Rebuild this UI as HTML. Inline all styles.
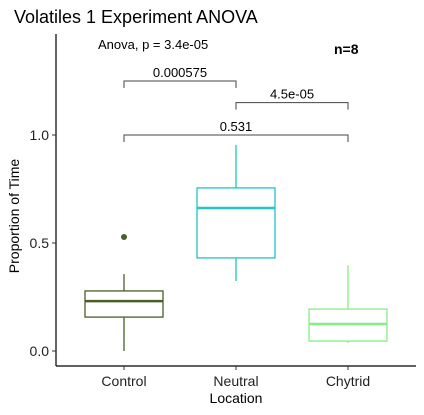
<!DOCTYPE html>
<html><head><meta charset="utf-8"><style>
body{margin:0;background:#fff;}
svg{font-family:"Liberation Sans",Arial,sans-serif;display:block;}
</style></head><body>
<svg width="424" height="415" viewBox="0 0 424 415">
<text x="14" y="23" font-size="18" fill="#000">Volatiles 1 Experiment ANOVA</text>
<g id="plot"></g>
<text x="98" y="49" font-size="13" fill="#000">Anova, p = 3.4e-05</text>
<text x="334" y="54" font-size="14" font-weight="bold" fill="#000">n=8</text>
<text x="236" y="403" font-size="14" text-anchor="middle" fill="#000">Location</text>
<text transform="translate(19,216) rotate(-90)" font-size="14" text-anchor="middle" fill="#000">Proportion of Time</text>
</svg>
<script>
const categories=["Control","Neutral","Chytrid"];
const colors=["#4b5e2a","#22c4c4","#86ee86"];
const wLow=[0.0,0.324,0.037];
const q1=[0.157,0.431,0.046];
const med=[0.231,0.662,0.125];
const q3=[0.278,0.755,0.194];
const wHigh=[0.356,0.954,0.398];
const outliers=[[0.528],[],[]];
const yTicks=[0,0.5,1.0];
const yTickLabels=["0.0","0.5","1.0"];
const brackets=[[0,1,1.25,"0.000575"],[1,2,1.15,"4.5e-05"],[0,2,1.0,"0.531"]];
const NS="http://www.w3.org/2000/svg";
const g=document.getElementById('plot');
const y=v=>351-216*v;
const x=i=>124+112*i;
function mk(t,a,txt){const e=document.createElementNS(NS,t);for(const k in a)e.setAttribute(k,a[k]);if(txt!==undefined)e.textContent=txt;g.appendChild(e);return e;}
let e;
e=mk('line',{x1:56,y1:366,x2:416,y2:366,stroke:'#000','stroke-width':1.2});


e=mk('line',{x1:56,y1:34,x2:56,y2:366,stroke:'#000','stroke-width':1.2});


yTicks.forEach((v,i)=>{
 e=mk('line',{x1:52,y1:y(v),x2:56,y2:y(v),stroke:'#333'});
 
 
 e=mk('text',{x:49,y:y(v)+5,'font-size':14,'text-anchor':'end',fill:'#222'},yTickLabels[i]);
 
 
});
categories.forEach((c,i)=>{
 const cx=x(i),col=colors[i];
 e=mk('line',{x1:cx,y1:366,x2:cx,y2:370,stroke:'#333'});
 
 
 e=mk('text',{x:cx,y:386,'font-size':14,'text-anchor':'middle',fill:'#222'},c);
 
 
 e=mk('line',{x1:cx,y1:y(wHigh[i]),x2:cx,y2:y(q3[i]),stroke:col,'stroke-width':1.3});
 
 
 e=mk('line',{x1:cx,y1:y(q1[i]),x2:cx,y2:y(wLow[i]),stroke:col,'stroke-width':1.3});
 
 
 e=mk('rect',{x:cx-39,y:y(q3[i]),width:78,height:y(q1[i])-y(q3[i]),fill:'#fff',stroke:col,'stroke-width':1.3});
 
 
 e=mk('line',{x1:cx-39,y1:y(med[i]),x2:cx+39,y2:y(med[i]),stroke:col,'stroke-width':2.5});
 
 
 outliers[i].forEach(o=>{
  e=mk('circle',{cx:cx,cy:y(o),r:3,fill:col});
  
  
 });
});
brackets.forEach(b=>{
 const x1=x(b[0]),x2=x(b[1]),yy=y(b[2]);
 e=mk('path',{d:`M${x1},${yy+7}V${yy}H${x2}V${yy+7}`,fill:'none',stroke:'#444','stroke-width':1});
 
 
 e=mk('text',{x:(x1+x2)/2,y:yy-4,'font-size':13,'text-anchor':'middle',fill:'#000'},b[3]);
 
 
});
</script>
</body></html>
